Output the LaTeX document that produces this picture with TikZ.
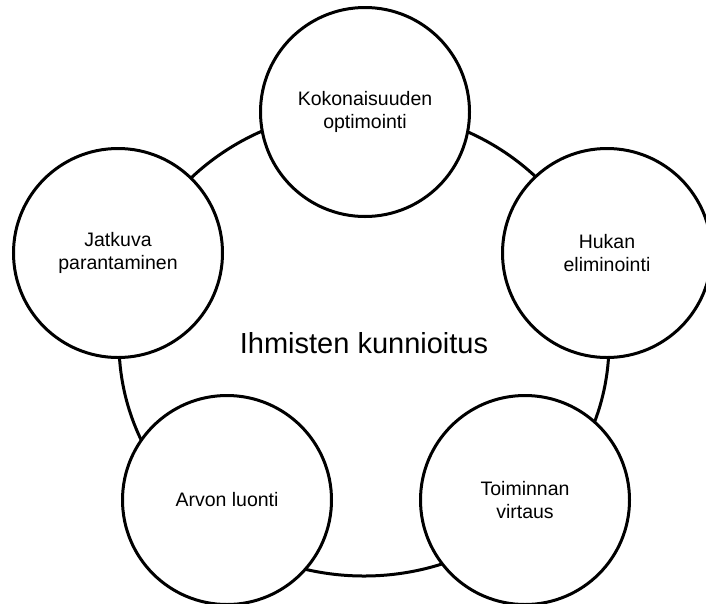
\documentclass[tikz,border=0pt]{standalone}
\usepackage{fontspec}
\setmainfont{Liberation Sans}
\usetikzlibrary{shapes.geometric}
\begin{document}
\begin{tikzpicture}[x=1pt,y=-1pt,
    pillar/.style={circle,draw,line width=3pt,fill=white,minimum size=209pt,inner sep=0pt,align=center,font=\fontsize{19.5}{23}\selectfont},
    core/.style={ellipse,draw,line width=3pt,minimum width=490pt,minimum height=466pt,inner sep=0pt,font=\fontsize{29}{34}\selectfont}]
    \useasboundingbox (0,0) rectangle (706,603);
    \node[core] (kunnioitus) at (364,343) {Ihmisten kunnioitus};
    \node[pillar] (kokonaisuus) at (365,112) {Kokonaisuuden\\optimointi};
    \node[pillar] (hukka) at (607,253) {Hukan\\eliminointi};
    \node[pillar] (virtaus) at (525,500) {Toiminnan\\virtaus};
    \node[pillar] (arvo) at (227,500) {Arvon luonti};
    \node[pillar] (parantaminen) at (118,253) {Jatkuva\\parantaminen};
\end{tikzpicture}
\end{document}
